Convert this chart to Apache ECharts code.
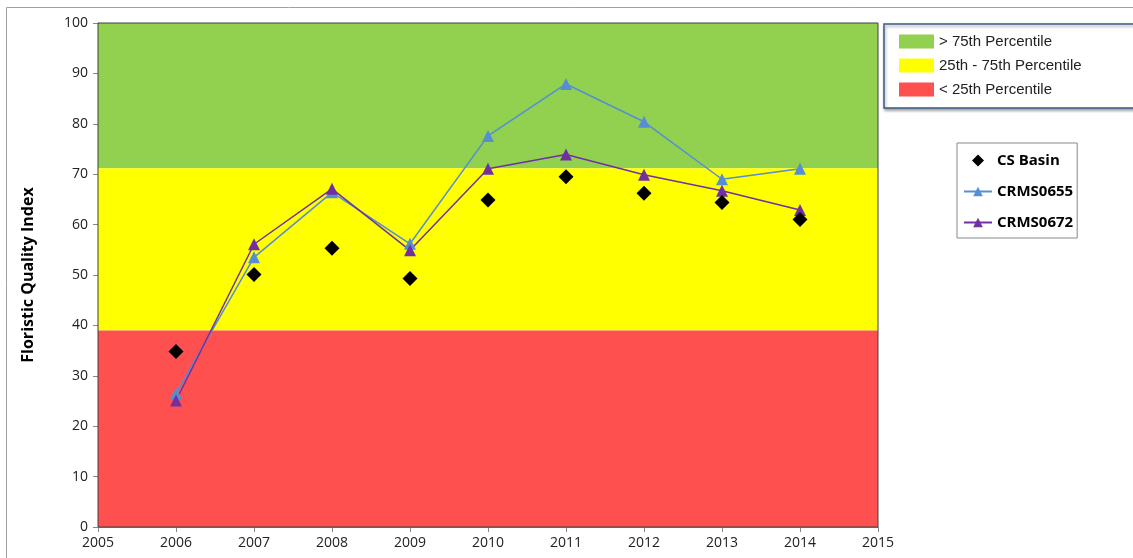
<!DOCTYPE html>
<html>
<head>
<meta charset="utf-8">
<script src="https://cdn.jsdelivr.net/npm/echarts@6/dist/echarts.min.js"></script>
<style>
    html, body { margin: 0; padding: 0; background: #fff; }
    #chart { width: 1133px; height: 558px; }
</style>
</head>
<body>
<div id="chart"></div>
<script>
// data
const years = [2006, 2007, 2008, 2009, 2010, 2011, 2012, 2013, 2014];
const csBasin = [34.8, 50.1, 55.3, 49.3, 64.9, 69.5, 66.2, 64.4, 61.0];
const crms0655 = [26.5, 53.5, 66.4, 56.2, 77.6, 87.9, 80.4, 69.0, 71.1];
const crms0672 = [25.1, 56.1, 67.1, 54.9, 71.1, 73.9, 69.9, 66.7, 62.9];
const bandNames = ['> 75th Percentile', '25th - 75th Percentile', '< 25th Percentile'];
const bandRanges = [[71.2, 100], [39.0, 71.2], [0, 39.0]];
const bandColors = ['#92d050', '#ffff00', '#ff5050'];

const pairs = arr => years.map((y, i) => [y, arr[i]]);

window.addEventListener('DOMContentLoaded', () => {
    const myChart = echarts.init(document.getElementById('chart'));

    const bandSeries = bandNames.map((name, i) => ({
        name: name,
        type: 'line',
        data: [],
        z: 0,
        silent: true,
        itemStyle: { color: bandColors[i] },
        lineStyle: { color: bandColors[i] },
        markArea: {
            silent: true,
            itemStyle: { color: bandColors[i], opacity: 1 },
            data: [[{ yAxis: bandRanges[i][0] }, { yAxis: bandRanges[i][1] }]]
        }
    }));

    const tickFont = { fontFamily: 'Open Sans', fontSize: 14, color: '#222' };

    myChart.setOption({
        animation: false,
        graphic: [{
            type: 'rect',
            shape: { x: 6.5, y: 7.5, width: 1140, height: 560 },
            style: { fill: null, stroke: '#a0a0a0', lineWidth: 1 }
        }],
        grid: {
            left: 98,
            top: 23,
            right: 255,
            bottom: 31,
            show: true,
            borderColor: '#404040',
            borderWidth: 1,
            z: 3
        },
        legend: [
            {
                data: bandNames,
                orient: 'vertical',
                left: 884,
                top: 24,
                padding: [10, 60, 11, 15],
                itemWidth: 35,
                itemHeight: 14,
                itemGap: 9,
                icon: 'rect',
                selectedMode: false,
                backgroundColor: '#fff',
                borderColor: '#3b5a85',
                borderWidth: 1.5,
                shadowColor: 'rgba(0,0,0,0.35)',
                shadowBlur: 3,
                shadowOffsetX: 1,
                shadowOffsetY: 2,
                textStyle: { fontFamily: 'Liberation Sans', fontSize: 15, color: '#222' }
            },
            {
                data: [
                    { name: 'CS Basin', icon: 'path://M0,-1L1,0L0,1L-1,0Z' },
                    'CRMS0655',
                    'CRMS0672'
                ],
                orient: 'vertical',
                left: 957,
                top: 143,
                padding: [10, 4, 8, 6],
                itemWidth: 28,
                itemHeight: 12,
                itemGap: 16,
                symbolKeepAspect: true,
                selectedMode: false,
                borderColor: '#888',
                borderWidth: 1,
                textStyle: { fontFamily: 'Open Sans', fontWeight: 'bold', fontSize: 15, color: '#000' }
            }
        ],
        xAxis: {
            type: 'value',
            min: 2005,
            max: 2015,
            interval: 1,
            splitLine: { show: false },
            axisLine: { lineStyle: { color: '#888' } },
            axisTick: { show: true, length: 5, lineStyle: { color: '#888' } },
            axisLabel: Object.assign({ margin: 9, formatter: v => String(v) }, tickFont)
        },
        yAxis: {
            type: 'value',
            min: 0,
            max: 100,
            interval: 10,
            name: 'Floristic Quality Index',
            nameLocation: 'middle',
            nameGap: 62,
            nameTextStyle: { fontFamily: 'Open Sans', fontWeight: 'bold', fontSize: 16, color: '#000' },
            splitLine: { show: false },
            axisLine: { show: true, lineStyle: { color: '#888' } },
            axisTick: { show: true, length: 5, lineStyle: { color: '#888' } },
            axisLabel: Object.assign({ margin: 10 }, tickFont)
        },
        series: bandSeries.concat([
            {
                name: 'CS Basin',
                type: 'scatter',
                data: pairs(csBasin),
                symbol: 'diamond',
                symbolSize: 15,
                z: 5,
                itemStyle: { color: '#000', opacity: 1 }
            },
            {
                name: 'CRMS0655',
                type: 'line',
                data: pairs(crms0655),
                symbol: 'triangle',
                symbolSize: 12,
                z: 4,
                itemStyle: { color: '#558ed5' },
                lineStyle: { color: '#558ed5', width: 1.5 }
            },
            {
                name: 'CRMS0672',
                type: 'line',
                data: pairs(crms0672),
                symbol: 'triangle',
                symbolSize: 12,
                z: 4,
                itemStyle: { color: '#7030a0' },
                lineStyle: { color: '#7030a0', width: 1.5 }
            }
        ])
    });
});
</script>
</body>
</html>
